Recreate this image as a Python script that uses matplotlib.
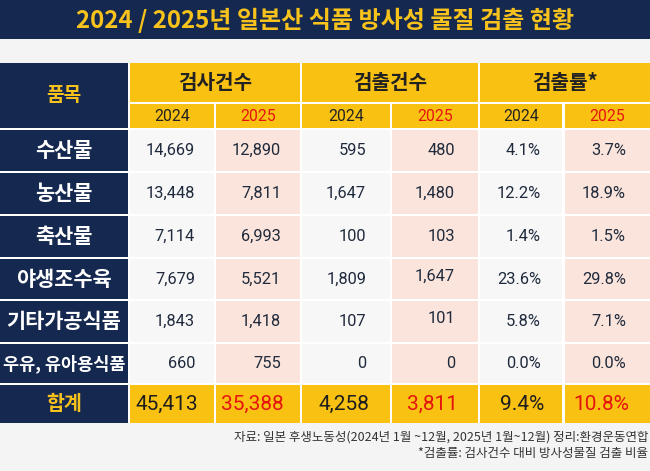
import matplotlib
matplotlib.use("Agg")
import matplotlib.pyplot as plt
from matplotlib.patches import Rectangle

plt.rcParams["font.family"] = ["Noto Sans CJK KR", "DejaVu Sans"]

# data
title = "2024 / 2025년 일본산 식품 방사성 물질 검출 현황"
items = ["수산물", "농산물", "축산물", "야생조수육", "기타가공식품", "우유, 유아용식품"]
years = ["2024", "2025"]
groups = ["검사건수", "검출건수", "검출률*"]
inspect_2024 = [14669, 13448, 7114, 7679, 1843, 660]
inspect_2025 = [12890, 7811, 6993, 5521, 1418, 755]
detect_2024 = [595, 1647, 100, 1809, 107, 0]
detect_2025 = [480, 1480, 103, 1647, 101, 0]
rate_2024 = [4.1, 12.2, 1.4, 23.6, 5.8, 0.0]
rate_2025 = [3.7, 18.9, 1.5, 29.8, 7.1, 0.0]
total_label = "합계"
total_inspect = [45413, 35388]
total_detect = [4258, 3811]
total_rate = [9.4, 10.8]
source_note = "자료: 일본 후생노동성(2024년 1월 ~12월, 2025년 1월~12월) 정리:환경운동연합"
rate_note = "*검출률: 검사건수 대비 방사성물질 검출 비율"

# colours
NAVY = "#15284f"
YELLOW = "#f9c112"
TITLE_Y = "#f7c21c"
PINK = "#fbe4db"
CELL = "#f7f7f8"
BG = "#f4f4f5"
RED = "#e5140f"
TXT = "#1f2a3c"

# layout (pixels, y downward)
col_edges = [(0, 128), (130, 214), (216, 300), (302, 390), (392, 478), (480, 562), (565, 650)]
num_right = [195, 281, 366, 455, 541, 626]
head1 = (63, 102)
head2 = (104, 128)
row_edges = [(130, 171), (173, 214), (216, 257), (259, 299), (301, 342), (344, 383)]
total_row = (385, 423)

fig = plt.figure(figsize=(6.5, 4.71), dpi=100)
fig.patch.set_facecolor(BG)
ax = fig.add_axes([0, 0, 1, 1])
ax.set_xlim(0, 650)
ax.set_ylim(471, 0)
ax.axis("off")


def cell(x0, x1, y0, y1, color):
    ax.add_patch(Rectangle((x0, y0), x1 - x0, y1 - y0, facecolor=color, edgecolor="none"))


# title band
cell(0, 650, 0, 39, NAVY)
ax.text(325, 20, title, color=TITLE_Y, fontsize=17.3, fontweight="bold", ha="center", va="center")

# white table body behind the cells (gaps show white)
cell(0, 650, head1[0], total_row[1], "white")

# header
cell(col_edges[0][0], col_edges[0][1], head1[0], head2[1], NAVY)
ax.text(64, (head1[0] + head2[1]) / 2, "품목", color=TITLE_Y, fontsize=13.8,
        fontweight="bold", ha="center", va="center")
for g, name in enumerate(groups):
    left = col_edges[1 + 2 * g][0]
    right = col_edges[2 + 2 * g][1]
    cell(left, right, head1[0], head1[1], YELLOW)
    ax.text((left + right) / 2, (head1[0] + head1[1]) / 2, name, color="#222222",
            fontsize=14.5, fontweight="bold", ha="center", va="center")
    for k, yr in enumerate(years):
        x0, x1 = col_edges[1 + 2 * g + k]
        cell(x0, x1, head2[0], head2[1], YELLOW)
        ax.text((x0 + x1) / 2, (head2[0] + head2[1]) / 2 + 0.5, yr,
                color=RED if k == 1 else "#222222", fontsize=11.3, family="Roboto",
                ha="center", va="center")

# body
columns = [
    [f"{v:,}" for v in inspect_2024],
    [f"{v:,}" for v in inspect_2025],
    [f"{v:,}" for v in detect_2024],
    [f"{v:,}" for v in detect_2025],
    [f"{v:.1f}%" for v in rate_2024],
    [f"{v:.1f}%" for v in rate_2025],
]
nudge = {(3, 3): -3, (4, 3): -3}
for r, name in enumerate(items):
    y0, y1 = row_edges[r]
    yc = (y0 + y1) / 2
    cell(col_edges[0][0], col_edges[0][1], y0, y1, NAVY)
    ax.text(64, yc, name, color="white", fontsize=15 if r < 5 else 12.6,
            fontweight="bold", ha="center", va="center")
    for c in range(6):
        x0, x1 = col_edges[c + 1]
        cell(x0, x1, y0, y1, PINK if c % 2 else CELL)
        ax.text(num_right[c], yc + nudge.get((r, c), 0), columns[c][r], color=TXT,
                fontsize=11.8, family="Roboto", ha="right", va="center")

# total row
y0, y1 = total_row
yc = (y0 + y1) / 2
cell(col_edges[0][0], col_edges[0][1], y0, y1, NAVY)
ax.text(64, yc, total_label, color=TITLE_Y, fontsize=14, fontweight="bold",
        ha="center", va="center")
totals = [f"{total_inspect[0]:,}", f"{total_inspect[1]:,}",
          f"{total_detect[0]:,}", f"{total_detect[1]:,}",
          f"{total_rate[0]:.1f}%", f"{total_rate[1]:.1f}%"]
for c in range(6):
    x0, x1 = col_edges[c + 1]
    cell(x0, x1, y0, y1, YELLOW)
    ax.text(num_right[c] + 3, yc, totals[c], color=RED if c % 2 else "#1e1e1e",
            fontsize=15, family="Roboto", ha="right", va="center")

# notes
ax.text(648, 437, source_note, color="#333333", fontsize=9, ha="right", va="center")
ax.text(648, 454, rate_note, color="#333333", fontsize=9, ha="right", va="center")

fig.savefig("out.png", dpi=100, facecolor=BG)
